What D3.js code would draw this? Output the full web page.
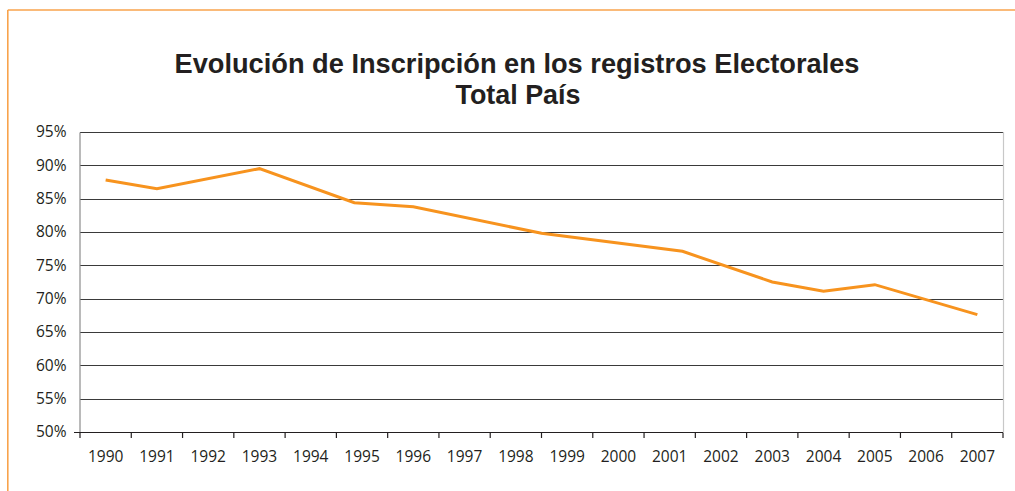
<!DOCTYPE html>
<html>
<head>
<meta charset="utf-8">
<script src="https://cdn.jsdelivr.net/npm/d3@7"></script>
<style>
  html, body { margin: 0; padding: 0; background: #fff; }
  svg { display: block; }
  text { font-family: "Open Sans", "DejaVu Sans", sans-serif; fill: #231f20; }
</style>
</head>
<body>
<svg id="chart" width="1015" height="491"></svg>
<script>
// Category labels along the x axis
const yearLabels = ["1990","1991","1992","1993","1994","1995","1996","1997","1998",
                    "1999","2000","2001","2002","2003","2004","2005","2006","2007"];
// Measurement times (in years) and registration share (%)
const measureYears = [1990, 1991, 1993, 1994.85, 1996, 1998.5, 2001.25, 2003, 2004, 2005, 2007];
const registration = [87.8, 86.5, 89.5, 84.4, 83.8, 79.8, 77.1, 72.5, 71.1, 72.1, 67.6];
// Y axis ticks
const yTicks = [50, 55, 60, 65, 70, 75, 80, 85, 90, 95];

const svg = d3.select("#chart");
const W = 1015, H = 491;
const plot = { left: 80, right: 1003, top: 132, bottom: 432 };

// Orange frame (top and left edges)
svg.append("line").attr("x1", 7.8).attr("x2", W).attr("y1", 10).attr("y2", 10)
  .attr("stroke", "#f8a34c").attr("stroke-width", 1.6);
svg.append("line").attr("x1", 7.8).attr("x2", 7.8).attr("y1", 10).attr("y2", H)
  .attr("stroke", "#f8a34c").attr("stroke-width", 1.6);

// Title (two centred lines, horizontally condensed)
const title = svg.append("g").attr("font-weight", 700).attr("text-anchor", "middle")
  .style("font-family", "'Liberation Sans', Arial, sans-serif");
title.append("text").attr("x", 517).attr("y", 72.5).attr("font-size", 28)
  .style("font-family", "'Liberation Sans', Arial, sans-serif")
  .attr("textLength", 685).attr("lengthAdjust", "spacingAndGlyphs")
  .text("Evolución de Inscripción en los registros Electorales");
title.append("text").attr("x", 518).attr("y", 104).attr("font-size", 28)
  .style("font-family", "'Liberation Sans', Arial, sans-serif")
  .attr("textLength", 125).attr("lengthAdjust", "spacingAndGlyphs")
  .text("Total País");

// Scales
const xBand = d3.scaleBand().domain(yearLabels).range([plot.left, plot.right]);
const xYear = d3.scaleLinear()
  .domain([+yearLabels[0] - 0.5, +yearLabels[yearLabels.length - 1] + 0.5])
  .range([plot.left, plot.right]);
const y = d3.scaleLinear().domain([50, 95]).range([plot.bottom, plot.top]);

// Horizontal gridlines
svg.append("g").selectAll("line").data(yTicks.filter(d => d > 50)).join("line")
  .attr("x1", plot.left).attr("x2", plot.right)
  .attr("y1", d => Math.round(y(d)) + 0.5).attr("y2", d => Math.round(y(d)) + 0.5)
  .attr("stroke", "#3a3a3a").attr("stroke-width", 1);

// Right border of plot area
svg.append("line").attr("x1", plot.right + 0.5).attr("x2", plot.right + 0.5)
  .attr("y1", y(95)).attr("y2", y(50))
  .attr("stroke", "#c8c8c8").attr("stroke-width", 1.2);

// Y axis
const yAxis = svg.append("g").attr("transform", `translate(${plot.left - 0.5},0)`)
  .call(d3.axisLeft(y).tickValues(yTicks).tickSize(0).tickPadding(13)
    .tickFormat(d => d + "%"));
yAxis.select(".domain").attr("stroke", "#8c8c8c").attr("stroke-width", 1.2);
yAxis.selectAll("text").attr("font-size", 15.5).attr("fill", "#231f20")
  .attr("font-family", "'Open Sans', sans-serif");

// X axis: labels centred on bands, ticks on band boundaries
const xAxisY = Math.round(y(50)) + 0.5;
svg.append("line").attr("x1", plot.left - 6).attr("x2", plot.right)
  .attr("y1", xAxisY).attr("y2", xAxisY).attr("stroke", "#231f20").attr("stroke-width", 1.2);
const boundaries = yearLabels.map(d => xBand(d)).concat([plot.right]);
svg.append("g").selectAll("line").data(boundaries).join("line")
  .attr("x1", d => d).attr("x2", d => d)
  .attr("y1", xAxisY).attr("y2", xAxisY + 5.5)
  .attr("stroke", "#231f20").attr("stroke-width", 1.2);
svg.append("g").selectAll("text").data(yearLabels).join("text")
  .attr("x", d => xBand(d) + xBand.bandwidth() / 2)
  .attr("y", 462)
  .attr("text-anchor", "middle").attr("font-size", 15.5)
  .text(d => d);

// Registration line
const points = measureYears.map((yr, i) => [yr, registration[i]]);
svg.append("path").datum(points)
  .attr("fill", "none").attr("stroke", "#f7931e").attr("stroke-width", 3)
  .attr("stroke-linejoin", "miter")
  .attr("d", d3.line().x(d => xYear(d[0])).y(d => y(d[1])));
</script>
</body>
</html>
